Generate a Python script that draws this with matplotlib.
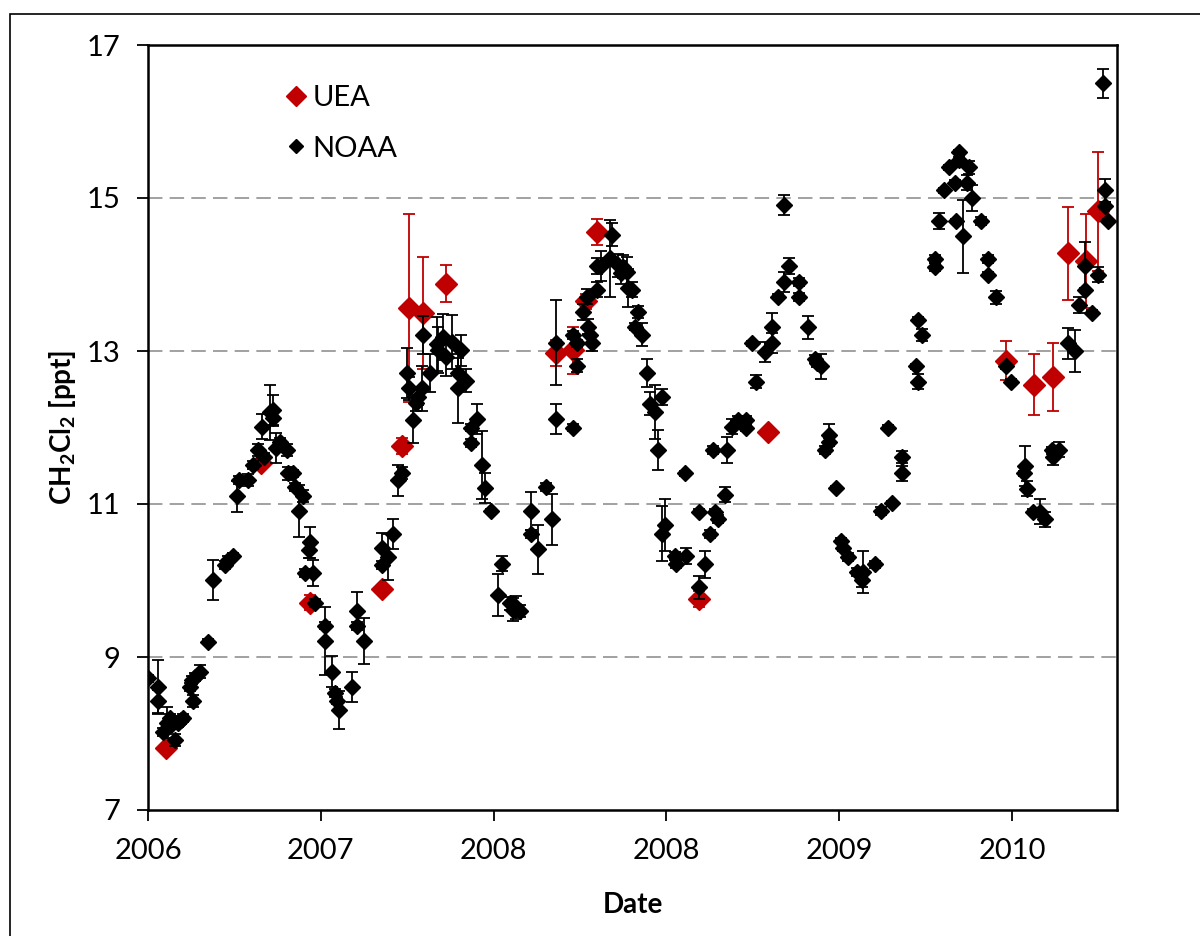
import matplotlib.pyplot as plt
from matplotlib.lines import Line2D
from matplotlib.patches import Rectangle

plt.rcParams['font.family'] = ['Lato', 'DejaVu Sans']
plt.rcParams['mathtext.fontset'] = 'custom'
plt.rcParams['mathtext.rm'] = 'Lato'
plt.rcParams['mathtext.bf'] = 'Lato:bold'

# NOAA flask data (decimal date, ppt, error)
noaa_x = [2006.002, 2006.060, 2006.060, 2006.089, 2006.108, 2006.127, 2006.140, 2006.156,
          2006.175, 2006.190, 2006.204, 2006.243, 2006.255, 2006.262, 2006.272, 2006.301,
          2006.349, 2006.374, 2006.446, 2006.465, 2006.490, 2006.513, 2006.527, 2006.580,
          2006.606, 2006.638, 2006.658, 2006.671, 2006.706, 2006.725, 2006.725, 2006.741,
          2006.764, 2006.803, 2006.812, 2006.841, 2006.851, 2006.876, 2006.895, 2006.909,
          2006.933, 2006.938, 2006.953, 2006.966, 2007.024, 2007.024, 2007.063, 2007.082,
          2007.094, 2007.107, 2007.179, 2007.208, 2007.208, 2007.250, 2007.352, 2007.352,
          2007.387, 2007.416, 2007.449, 2007.472, 2007.497, 2007.510, 2007.535, 2007.551,
          2007.564, 2007.587, 2007.593, 2007.632, 2007.671, 2007.680, 2007.709, 2007.725,
          2007.758, 2007.811, 2007.796, 2007.796, 2007.840, 2007.869, 2007.902, 2007.869,
          2007.931, 2007.950, 2007.985, 2008.047, 2008.027, 2008.095, 2008.112, 2008.130,
          2008.153, 2008.216, 2008.216, 2008.259, 2008.303, 2008.336, 2008.361, 2008.361,
          2008.461, 2008.461, 2008.481, 2008.481, 2008.516, 2008.542, 2008.548, 2008.558,
          2008.568, 2008.597, 2008.597, 2008.620, 2008.683, 2008.674, 2008.722, 2008.751,
          2008.736, 2008.770, 2008.780, 2008.801, 2008.837, 2008.818, 2008.857, 2008.886,
          2008.905, 2008.934, 2008.973, 2008.953, 2009.108, 2008.973, 2008.992, 2009.050,
          2009.054, 2009.113, 2009.190, 2009.223, 2009.190, 2009.252, 2009.281, 2009.300,
          2009.268, 2009.339, 2009.349, 2009.381, 2009.416, 2009.459, 2009.459, 2009.497,
          2009.519, 2009.571, 2009.609, 2009.609, 2009.644, 2009.682, 2009.711, 2009.682,
          2009.767, 2009.767, 2009.821, 2009.860, 2009.870, 2009.895, 2009.941, 2009.941,
          2009.918, 2009.981, 2010.010, 2010.024, 2010.053, 2010.101, 2010.140, 2010.134,
          2010.207, 2010.242, 2010.304, 2010.284, 2010.362, 2010.362, 2010.443, 2010.458,
          2010.458, 2010.477, 2010.554, 2010.554, 2010.579, 2010.606, 2010.637, 2010.670,
          2010.696, 2010.696, 2010.676, 2010.738, 2010.753, 2010.715, 2010.767, 2010.821,
          2010.863, 2010.863, 2010.907, 2010.965, 2010.992, 2011.075, 2011.069, 2011.085,
          2011.120, 2011.162, 2011.191, 2011.236, 2011.230, 2011.274, 2011.326, 2011.365,
          2011.389, 2011.422, 2011.422, 2011.461, 2011.499, 2011.538, 2011.538, 2011.557,
          2011.525]
noaa_y = [8.72, 8.61, 8.42, 8.02, 8.14, 8.20, 8.12, 7.92,
          8.14, 8.18, 8.20, 8.61, 8.70, 8.42, 8.74, 8.81,
          9.20, 10.01, 10.20, 10.27, 10.32, 11.10, 11.31, 11.31,
          11.51, 11.71, 12.01, 11.62, 12.20, 12.23, 12.12, 11.73,
          11.81, 11.71, 11.40, 11.40, 11.22, 10.91, 11.10, 10.10,
          10.40, 10.50, 10.10, 9.71, 9.41, 9.21, 8.81, 8.53,
          8.43, 8.31, 8.61, 9.60, 9.41, 9.21, 10.42, 10.20,
          10.31, 10.61, 11.31, 11.41, 12.71, 12.51, 12.10, 12.32,
          12.40, 12.51, 13.21, 12.71, 13.09, 13.01, 13.18, 12.92,
          13.12, 13.01, 12.71, 12.51, 12.61, 12.00, 12.11, 11.80,
          11.51, 11.21, 10.91, 10.22, 9.81, 9.70, 9.62, 9.65,
          9.60, 10.91, 10.61, 10.41, 11.22, 10.80, 13.11, 12.11,
          12.00, 13.21, 12.81, 13.10, 13.51, 13.71, 13.32, 13.21,
          13.10, 13.80, 14.11, 14.11, 14.52, 14.21, 14.12, 14.10,
          14.02, 14.03, 13.82, 13.80, 13.51, 13.32, 13.21, 12.71,
          12.31, 12.20, 12.40, 11.71, 11.40, 10.61, 10.73, 10.32,
          10.21, 10.32, 10.90, 10.21, 9.91, 10.61, 10.90, 10.80,
          11.71, 11.12, 11.71, 12.01, 12.10, 12.10, 12.00, 13.10,
          12.60, 12.99, 13.11, 13.31, 13.71, 13.90, 14.11, 14.91,
          13.90, 13.71, 13.31, 12.90, 12.84, 12.80, 11.90, 11.81,
          11.71, 11.21, 10.52, 10.42, 10.31, 10.11, 10.11, 10.01,
          10.21, 10.91, 11.01, 12.00, 11.61, 11.40, 12.80, 12.60,
          13.41, 13.21, 14.20, 14.10, 14.70, 15.10, 15.40, 15.20,
          15.60, 15.50, 14.70, 15.20, 15.40, 14.50, 15.00, 14.70,
          14.20, 14.00, 13.70, 12.80, 12.60, 11.50, 11.40, 11.20,
          10.90, 10.90, 10.80, 11.61, 11.70, 11.71, 13.10, 13.00,
          13.60, 13.80, 14.11, 13.50, 14.00, 15.10, 14.90, 14.70,
          16.50]
noaa_err = [0.05, 0.35, 0.15, 0.05, 0.20, 0.05, 0.05, 0.08,
            0.05, 0.05, 0.05, 0.05, 0.05, 0.08, 0.05, 0.08,
            0.03, 0.26, 0.05, 0.05, 0.04, 0.20, 0.05, 0.08,
            0.05, 0.08, 0.16, 0.05, 0.36, 0.20, 0.10, 0.20,
            0.05, 0.08, 0.08, 0.05, 0.05, 0.34, 0.08, 0.05,
            0.10, 0.20, 0.17, 0.05, 0.05, 0.45, 0.20, 0.05,
            0.05, 0.25, 0.20, 0.25, 0.05, 0.30, 0.20, 0.05,
            0.30, 0.20, 0.20, 0.08, 0.33, 0.15, 0.30, 0.10,
            0.10, 0.30, 0.25, 0.25, 0.35, 0.30, 0.30, 0.25,
            0.35, 0.20, 0.20, 0.45, 0.15, 0.05, 0.20, 0.05,
            0.45, 0.20, 0.03, 0.10, 0.28, 0.08, 0.15, 0.15,
            0.08, 0.25, 0.05, 0.32, 0.05, 0.33, 0.56, 0.20,
            0.05, 0.05, 0.08, 0.05, 0.10, 0.10, 0.10, 0.10,
            0.10, 0.10, 0.10, 0.20, 0.15, 0.50, 0.15, 0.15,
            0.15, 0.20, 0.25, 0.10, 0.08, 0.05, 0.15, 0.18,
            0.15, 0.35, 0.10, 0.26, 0.03, 0.36, 0.34, 0.05,
            0.05, 0.10, 0.03, 0.18, 0.15, 0.05, 0.03, 0.05,
            0.05, 0.10, 0.17, 0.10, 0.05, 0.05, 0.05, 0.03,
            0.08, 0.13, 0.13, 0.19, 0.03, 0.13, 0.10, 0.13,
            0.05, 0.05, 0.15, 0.05, 0.05, 0.16, 0.14, 0.05,
            0.05, 0.03, 0.03, 0.03, 0.05, 0.05, 0.27, 0.10,
            0.05, 0.05, 0.03, 0.03, 0.08, 0.10, 0.03, 0.10,
            0.03, 0.08, 0.05, 0.05, 0.10, 0.03, 0.03, 0.03,
            0.03, 0.03, 0.03, 0.10, 0.08, 0.48, 0.17, 0.05,
            0.05, 0.03, 0.08, 0.03, 0.03, 0.26, 0.03, 0.10,
            0.03, 0.16, 0.10, 0.10, 0.05, 0.10, 0.20, 0.27,
            0.10, 0.03, 0.32, 0.03, 0.10, 0.15, 0.05, 0.03,
            0.19]

# UEA data
uea_x = [2006.104, 2006.652, 2006.938, 2007.352, 2007.472, 2007.510, 2007.593, 2007.725,
         2008.361, 2008.461, 2008.535, 2008.597, 2009.190, 2009.586, 2010.965, 2011.129,
         2011.236, 2011.326, 2011.426, 2011.496]
uea_y = [7.81, 11.54, 9.71, 9.89, 11.76, 13.56, 13.50, 13.88,
         12.97, 13.01, 13.65, 14.56, 9.76, 11.94, 12.875, 12.56,
         12.66, 14.275, 14.175, 14.825]
uea_err = [0.05, 0.05, 0.10, 0.05, 0.10, 1.23, 0.73, 0.24,
           0.17, 0.31, 0.10, 0.17, 0.10, 0.03, 0.25, 0.40,
           0.45, 0.61, 0.61, 0.78]

xticks = [2006, 2007, 2008, 2009, 2010, 2011]
xtick_labels = ['2006', '2007', '2008', '2008', '2009', '2010']
yticks = [7, 9, 11, 13, 15, 17]

red = '#C00000'

fig = plt.figure(figsize=(12, 9.36), dpi=100)
ax = fig.add_axes([148 / 1200, 1 - 810 / 936, 969 / 1200, 765 / 936])

# outer chart border
fig.patches.append(Rectangle((10 / 1200, -0.05), 1.1, 1 - 14 / 936 + 0.05,
                             transform=fig.transFigure, fill=False,
                             edgecolor='black', linewidth=1.2))

for yv in yticks[1:-1]:
    ax.axhline(yv, color='#9a9a9a', linewidth=1.3, dashes=(8, 4), zorder=1)

ax.errorbar(uea_x, uea_y, yerr=uea_err, fmt='D', color=red, ms=11,
            elinewidth=1.3, capsize=4.5, capthick=1.3, zorder=2)
ax.errorbar(noaa_x, noaa_y, yerr=noaa_err, fmt='D', color='black', ms=8,
            elinewidth=1.3, capsize=4.5, capthick=1.3, zorder=3)

ax.set_xlim(2006, 2011.608)
ax.set_ylim(7, 17)
ax.set_xticks(xticks)
ax.set_xticklabels(xtick_labels)
ax.set_yticks(yticks)
ax.tick_params(axis='both', direction='out', length=8, width=1.3, labelsize=21)
ax.tick_params(axis='x', pad=12)
ax.tick_params(axis='y', pad=12)
for sp in ax.spines.values():
    sp.set_linewidth(1.8)

ax.set_xlabel('Date', fontsize=20, fontweight='bold', labelpad=20)
ax.set_ylabel('CH$_\\mathbf{2}$Cl$_\\mathbf{2}$ [ppt]', fontsize=20, fontweight='bold',
              labelpad=6)

handles = [Line2D([], [], marker='D', color=red, ls='', ms=10),
           Line2D([], [], marker='D', color='black', ls='', ms=7)]
ax.legend(handles, ['UEA', 'NOAA'], loc='upper left', bbox_to_anchor=(0.126, 0.967),
          frameon=False, fontsize=21, handlelength=0.8, handletextpad=0.15,
          labelspacing=0.85, borderpad=0)

fig.savefig('out.png', dpi=100)
